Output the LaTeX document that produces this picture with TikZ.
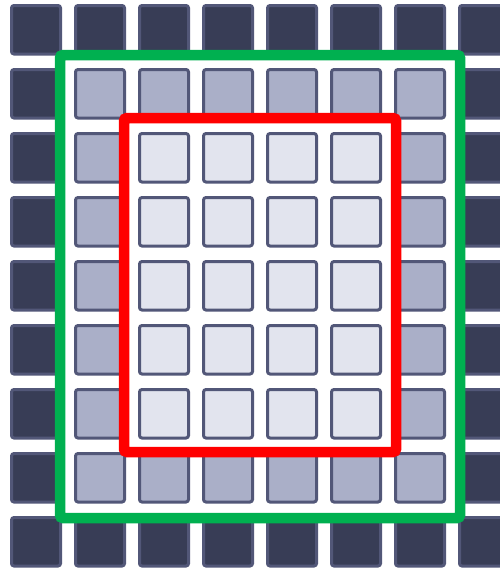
\documentclass[tikz,border=0pt]{standalone}
\usetikzlibrary{calc}
\definecolor{darkfill}{RGB}{56,61,86}
\definecolor{cellborder}{RGB}{82,87,120}
\definecolor{midfill}{RGB}{170,175,200}
\definecolor{lightfill}{RGB}{226,228,238}
\definecolor{framegreen}{RGB}{0,176,80}
\definecolor{framered}{RGB}{255,0,0}
\tikzset{
  cell/.style={draw=cellborder, line width=3pt, rounded corners=2.5pt},
  darkcell/.style={cell, fill=darkfill},
  midcell/.style={cell, fill=midfill},
  lightcell/.style={cell, fill=lightfill},
  frame/.style={line width=10.5pt, rounded corners=3pt}
}
\begin{document}
\begin{tikzpicture}[x=1pt,y=-1pt]
\useasboundingbox (0,0) rectangle (500,568);
\clip (0,0) rectangle (500,568);
\fill[white] (0,0) rectangle (500,568);
\foreach \i in {0,...,7}{
  \foreach \j in {0,...,8}{
    \pgfmathtruncatemacro{\ring}{min(min(\i,7-\i),min(\j,8-\j))}
    \pgfmathsetmacro{\xa}{10+64*\i+1.5}
    \pgfmathsetmacro{\ya}{4+64*\j+1.5}
    \ifcase\ring
      \def\cs{darkcell}
    \or
      \def\cs{midcell}
    \else
      \def\cs{lightcell}
    \fi
    \draw[\cs] (\xa,\ya) rectangle ++(49,48.5);
  }
}
\draw[frame, draw=framegreen] (60,55) rectangle (460,518);
\draw[frame, draw=framered] (124,118) rectangle (396,452);
\end{tikzpicture}
\end{document}
